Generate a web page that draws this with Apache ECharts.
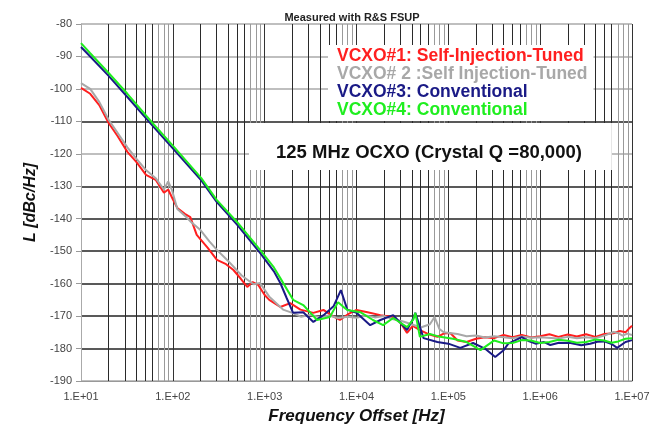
<!DOCTYPE html>
<html>
<head>
<meta charset="utf-8">
<script src="https://cdn.jsdelivr.net/npm/echarts@6/dist/echarts.min.js"></script>
<style>
  html, body { margin: 0; padding: 0; background: #fff; }
  #chart { width: 654px; height: 431px; }
</style>
</head>
<body>
<div id="chart"></div>
<script>
// phase noise, [offset Hz, dBc/Hz]
const vcxo1 = [
  [10, -99.7], [12.6, -101.5], [15.8, -105], [20, -110.5], [25, -114.5], [32, -119.4],
  [40, -122.5], [51, -126.5], [65, -128], [80, -132], [89, -131], [100, -134],
  [112, -136.7], [135, -138.5], [155, -139.5], [182, -145], [240, -149], [302, -152.7],
  [380, -154], [457, -155.8], [550, -158.5], [646, -161], [740, -159.5], [851, -160.4],
  [1000, -163.5], [1122, -165], [1480, -167.2], [1900, -166], [2450, -168], [3390, -169],
  [4365, -168.1], [5500, -170], [6600, -171.2], [8000, -169.5], [10000, -168.1],
  [13200, -168.8], [18200, -169.7], [25100, -170.3], [30000, -172], [35500, -175.2],
  [41000, -173], [49000, -174.3], [60000, -175.5], [75900, -176.4], [89000, -175.4],
  [105000, -175.2], [126000, -177.5], [158000, -178], [200000, -177], [251000, -176.5],
  [316000, -176.8], [400000, -175.8], [500000, -176.5], [630000, -175.8], [800000, -176.6],
  [1000000, -176.2], [1260000, -175.6], [1580000, -176.4], [2000000, -175.7],
  [2510000, -176.3], [3160000, -175.6], [4000000, -176.4], [5000000, -175.5],
  [6300000, -175.3], [7400000, -174.6], [8500000, -175], [9300000, -173.8], [10000000, -173]
];
const vcxo2 = [
  [10, -98.2], [12.6, -100], [15.8, -104], [20, -109.5], [25, -113.5], [32, -118],
  [40, -121.5], [51, -125], [65, -127.5], [80, -131], [89, -128.5], [98, -131.2],
  [112, -137], [140, -139.5], [158, -141], [200, -143.5], [250, -147], [302, -149.6],
  [400, -153], [562, -157.5], [700, -159.5], [759, -160.2], [891, -159.8],
  [1122, -164], [1585, -168], [2000, -169], [2500, -170.2], [3160, -169.6], [4000, -170.4],
  [5000, -169.8], [6300, -170.6], [8000, -170.2], [10000, -170.5], [12600, -169.8],
  [15800, -170.4], [20000, -170], [25100, -171], [31600, -171.6], [39800, -172.5],
  [50000, -173.5], [63000, -172.5], [70800, -170.3], [80000, -174], [89100, -175],
  [126000, -175.5], [158000, -176.2], [200000, -176], [251000, -176.6], [316000, -176.2],
  [398000, -176.5], [500000, -176.8], [630000, -176.3], [800000, -176.7], [1000000, -176.5],
  [1580000, -176.9], [2000000, -176.4], [2510000, -176.8], [3160000, -176.5],
  [4000000, -176.8], [5000000, -176], [6300000, -174.9], [7000000, -175.2],
  [7900000, -176], [8900000, -175.4], [10000000, -175.8]
];
const vcxo3 = [
  [10, -87.1], [12.6, -90], [20, -96], [32, -102.5], [60, -111.3], [100, -118.3],
  [204, -128.2], [300, -134.8], [500, -141.8], [891, -150.5], [1260, -156.2],
  [1480, -159.8], [1740, -164.5], [2040, -169], [2630, -168.8], [3390, -171.8],
  [4470, -169.5], [5620, -167], [6760, -162], [7940, -168], [10000, -169],
  [14100, -172.8], [18200, -171.2], [25100, -169.7], [35500, -174.3], [41000, -171],
  [43700, -169], [53700, -176.8], [75900, -178], [100000, -178.5], [135000, -179.8],
  [186000, -178.3], [250000, -180], [324000, -182.6], [400000, -180.5], [450000, -178.5],
  [630000, -176.5], [760000, -177.8], [890000, -178.5], [1100000, -178], [1290000, -178.9],
  [1600000, -178.2], [2140000, -178.3], [2800000, -179], [3500000, -178.5],
  [4200000, -177.9], [5000000, -177.8], [6000000, -178.6], [6900000, -179.8],
  [8500000, -178], [10000000, -177.4]
];
const vcxo4 = [
  [10, -85.9], [12.6, -89], [20, -95.1], [32, -101.5], [60, -110.5], [100, -117.5],
  [204, -127.5], [300, -134.2], [500, -141], [891, -149.6], [1260, -155],
  [1480, -158.3], [2040, -165], [2630, -166.6], [3160, -169], [3720, -171.2],
  [5130, -170.3], [6300, -165.7], [7080, -167], [7940, -168.1], [11000, -168.8],
  [15100, -171.2], [19500, -172.8], [25100, -170.6], [35500, -173.4], [41700, -171],
  [43700, -169], [49000, -176.4], [63000, -175.5], [81300, -176.4], [112000, -177],
  [158000, -178], [224000, -180.5], [316000, -177.5], [400000, -178.4], [500000, -178.3],
  [630000, -177.4], [794000, -177.5], [1000000, -178.3], [1260000, -178],
  [1580000, -177.3], [2000000, -177.6], [2510000, -178.2], [3160000, -178],
  [4000000, -177.2], [5000000, -177.5], [6000000, -178.2], [7080000, -177.8],
  [8500000, -177], [10000000, -176.8]
];

const seriesNames = [
  'VCXO#1: Self-Injection-Tuned',
  'VCXO# 2 :Self Injection-Tuned',
  'VCXO#3: Conventional',
  'VCXO#4: Conventional'
];
const seriesColors = ['#ff1f1f', '#a8a8a8', '#1a1a86', '#1fee1f'];
const seriesData = [vcxo1, vcxo2, vcxo3, vcxo4];

// log paper: lines at 2..9 of each decade
const minorGrid = [];
for (let d = 1; d < 7; d++) {
  for (let m = 2; m <= 9; m++) {
    minorGrid.push({
      xAxis: m * Math.pow(10, d),
      lineStyle: { color: (m <= 6 ? '#2a2a2a' : '#9a9a9a') }
    });
  }
}

const font = 'Liberation Sans, Arial, sans-serif';
const chart = echarts.init(document.getElementById('chart'), null, { renderer: 'canvas' });

const series = seriesNames.map((name, i) => ({
  name: name,
  type: 'line',
  data: seriesData[i],
  showSymbol: false,
  symbol: 'none',
  lineStyle: { color: seriesColors[i], width: 2 },
  itemStyle: { color: seriesColors[i] },
  z: 3 + i
}));
series[0].markLine = {
  silent: true,
  symbol: 'none',
  label: { show: false },
  animation: false,
  lineStyle: { type: 'solid', width: 1 },
  data: minorGrid,
  z: 1
};

chart.setOption({
  animation: false,
  backgroundColor: '#fff',
  title: [
    {
      text: 'Measured with R&S FSUP',
      left: 347, top: 7,
      textAlign: 'center',
      textStyle: { fontFamily: font, fontSize: 11, fontWeight: 'bold', color: '#222' }
    },
    {
      text: '125 MHz OCXO (Crystal Q =80,000)',
      left: 249, top: 123,
      padding: [20, 30, 8, 27],
      backgroundColor: '#fff',
      textStyle: { fontFamily: font, fontSize: 18.5, fontWeight: 'bold', color: '#111' },
      z: 10
    }
  ],
  legend: {
    orient: 'vertical',
    left: 328, top: 45,
    icon: 'none',
    itemWidth: 0,
    itemHeight: 14,
    itemGap: 0,
    padding: [2, 6, 2, 4],
    backgroundColor: '#fff',
    selectedMode: false,
    textStyle: { fontFamily: font, fontSize: 17.5, lineHeight: 17.5, fontWeight: 'bold' },
    data: seriesNames.map((n, i) => ({ name: n, textStyle: { color: seriesColors[i] } }))
  },
  grid: { left: 81, right: 22, top: 24, bottom: 50 },
  xAxis: {
    type: 'log',
    logBase: 10,
    min: 10,
    max: 10000000,
    name: 'Frequency Offset [Hz]',
    nameLocation: 'middle',
    nameGap: 27,
    nameTextStyle: { fontFamily: font, fontSize: 17, fontWeight: 'bold', fontStyle: 'italic', color: '#111' },
    axisLine: { lineStyle: { color: '#999' } },
    axisTick: { show: false },
    axisLabel: {
      margin: 10,
      fontFamily: font, fontSize: 11, color: '#444',
      formatter: v => '1.E+' + String(Math.round(Math.log10(v))).padStart(2, '0')
    },
    splitLine: { show: true, lineStyle: { color: '#333', width: 1 } }
  },
  yAxis: {
    type: 'value',
    min: -190,
    max: -80,
    interval: 10,
    name: 'L [dBc/Hz]',
    nameLocation: 'middle',
    nameRotate: 90,
    nameGap: 41,
    nameTextStyle: { fontFamily: font, fontSize: 16, fontWeight: 'bold', fontStyle: 'italic', color: '#111' },
    axisLine: { show: true, lineStyle: { color: '#aaa' } },
    axisTick: { show: true, length: 5, lineStyle: { color: '#999' } },
    axisLabel: { margin: 9, fontFamily: font, fontSize: 11, color: '#444' },
    splitLine: {
      show: true,
      lineStyle: {
        width: 1.5,
        color: ['#aaa', '#222', '#222', '#222', '#222', '#222', '#222', '#aaa', '#222', '#aaa', '#aaa', '#aaa']
      }
    }
  },
  series: series
});
</script>
</body>
</html>
